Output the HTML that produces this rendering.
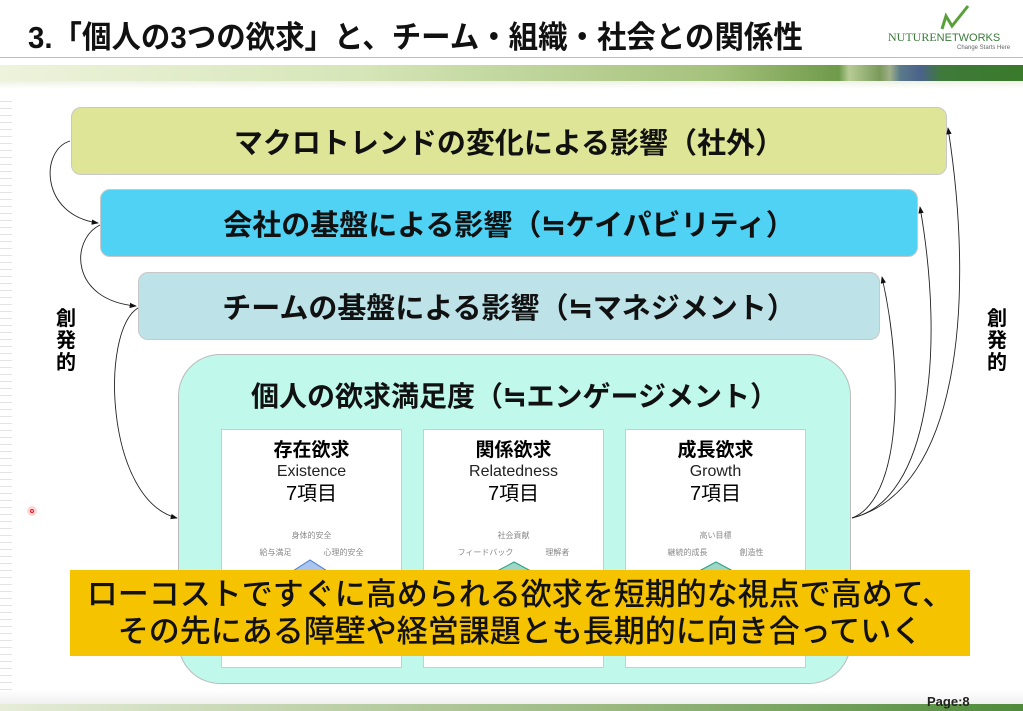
<!DOCTYPE html>
<html><head><meta charset="utf-8"><style>
body{margin:0;width:1023px;height:711px;position:relative;overflow:hidden;background:#fff;font-family:"Liberation Sans","Noto Sans CJK JP",sans-serif}
.a{position:absolute}
.box{position:absolute;border-radius:10px;border:1px solid #c8c8c8;box-sizing:border-box;display:flex;align-items:center;justify-content:center;font-weight:bold;color:#111;font-size:29px}
.card{position:absolute;top:429px;width:181px;height:239px;background:#fff;border:1px solid #ccc;box-sizing:border-box;text-align:center}
.card .t{font-size:19px;font-weight:bold;margin-top:10px;line-height:22px}
.card .e{font-size:16px;line-height:20px;color:#222}
.card .n{font-size:20px;line-height:24px}
.card .s{font-size:8px;color:#888}
.v{position:absolute;font-size:20px;font-weight:bold;line-height:22px;width:22px;text-align:center}
</style></head><body>
<div class="a" style="left:28px;top:12px;font-size:31px;font-weight:bold;color:#111;white-space:nowrap;transform:scaleX(0.95);transform-origin:left">3.「個人の3つの欲求」と、チーム・組織・社会との関係性</div>
<div class="a" style="left:888px;top:30px;font-size:12px;color:#3a7a3a;font-family:'Liberation Serif',serif">NUTURE<span style="font-family:'Liberation Sans';font-size:11px">NETWORKS</span></div>
<div class="a" style="left:957px;top:45px;font-size:6px;color:#666">Change Starts Here</div>
<svg class="a" style="left:930px;top:2px" width="70" height="30"><path d="M12 27 L16 14 L22 24 L38 4" stroke="#5aa03a" stroke-width="3" fill="none"/></svg>
<div class="a" style="left:0;top:57px;width:1023px;height:1px;background:#bbb"></div>
<div class="a" style="left:0;top:65px;width:1023px;height:16px;background:linear-gradient(90deg,#eef3dc 0%,#d6e6b8 35%,#a5c27c 70%,#6f9a4a 82%,#b7cc95 83%,#7a9a5a 86%,#9fb08a 87%,#5a7a8a 88%,#4a628a 90%,#3f7a3a 92%,#3a7a2a 100%)"></div>
<div class="a" style="left:0;top:81px;width:1023px;height:8px;background:linear-gradient(#eef2e6,#fff)"></div>
<div class="a" style="left:0;top:95px;width:12px;height:600px;background:repeating-linear-gradient(#fff 0 6px,#e3e3e3 6px 7px)"></div>

<div class="box" style="left:71px;top:107px;width:876px;height:68px;background:#dee597">マクロトレンドの変化による影響（社外）</div>
<div class="box" style="left:100px;top:189px;width:818px;height:68px;background:#4fd2f3">会社の基盤による影響（≒ケイパビリティ）</div>
<div class="box" style="left:138px;top:272px;width:742px;height:68px;background:#bde2e8">チームの基盤による影響（≒マネジメント）</div>
<div class="a" style="left:178px;top:354px;width:673px;height:330px;background:#c0f8ec;border:1px solid #bbb;box-sizing:border-box;border-radius:42px"></div>
<div class="a" style="left:178px;top:375px;width:673px;text-align:center;font-size:28px;font-weight:bold;color:#111">個人の欲求満足度（≒エンゲージメント）</div>

<div class="card" style="left:221px"><div class="t">存在欲求</div><div class="e">Existence</div><div class="n">7項目</div><div class="s" style="margin-top:24px">身体的安全</div><div class="s" style="margin-top:6px">給与満足　　　　心理的安全</div>
<svg width="181" height="30"><path d="M60 20 L88 2 L116 20 Z" fill="#a9c4ee" stroke="#4a7ad0"/></svg></div>
<div class="card" style="left:423px"><div class="t">関係欲求</div><div class="e">Relatedness</div><div class="n">7項目</div><div class="s" style="margin-top:24px">社会貢献</div><div class="s" style="margin-top:6px">フィードバック　　　　理解者</div>
<svg width="181" height="30"><path d="M60 20 L90 4 L120 20 Z" fill="#9fd6c6" stroke="#2aa080"/></svg></div>
<div class="card" style="left:625px"><div class="t">成長欲求</div><div class="e">Growth</div><div class="n">7項目</div><div class="s" style="margin-top:24px">高い目標</div><div class="s" style="margin-top:6px">継続的成長　　　　創造性</div>
<svg width="181" height="30"><path d="M60 20 L90 4 L120 20 Z" fill="#9fd6c6" stroke="#2aa080"/></svg></div>

<div class="a" style="left:70px;top:570px;width:900px;height:86px;background:#f6c300;text-align:center;font-size:31px;line-height:37px;color:#111;padding-top:6px;box-sizing:border-box;font-weight:500;white-space:nowrap">ローコストですぐに高められる欲求を短期的な視点で高めて、<br>その先にある障壁や経営課題とも長期的に向き合っていく</div>

<div class="v" style="left:55px;top:308px">創<br>発<br>的</div>
<div class="v" style="left:986px;top:308px">創<br>発<br>的</div>

<svg class="a" style="left:0;top:0" width="1023" height="711">
<defs><marker id="m" markerWidth="8" markerHeight="8" refX="7" refY="4" orient="auto"><path d="M0 1 L8 4 L0 7Z" fill="#111"/></marker></defs>
<g stroke="#222" stroke-width="0.9" fill="none" marker-end="url(#m)">
<path d="M70 141 C40 150,40 215,98 223"/>
<path d="M100 225 C70 240,70 300,136 306"/>
<path d="M138 308 C100 330,105 500,177 518"/>
<path d="M852 518 C900 500,905 380,882 277"/>
<path d="M852 518 C930 500,945 350,920 207"/>
<path d="M852 518 C960 490,975 300,948 128"/>
</g></svg>
<div class="a" style="left:27px;top:506px;width:10px;height:10px;border-radius:50%;background:#ffd6da"></div>
<div class="a" style="left:30px;top:509px;width:4px;height:4px;border-radius:50%;border:1px solid #e11;box-sizing:border-box"></div>
<div class="a" style="left:0;top:690px;width:1023px;height:14px;background:linear-gradient(#fff,#f0f0f0)"></div>
<div class="a" style="left:0;top:704px;width:1023px;height:7px;background:linear-gradient(90deg,#e6ecd8,#9ab880 60%,#4f8a3a)"></div>
<div class="a" style="left:927px;top:694px;font-size:13px;font-weight:bold;color:#222">Page:8</div>
</body></html>
